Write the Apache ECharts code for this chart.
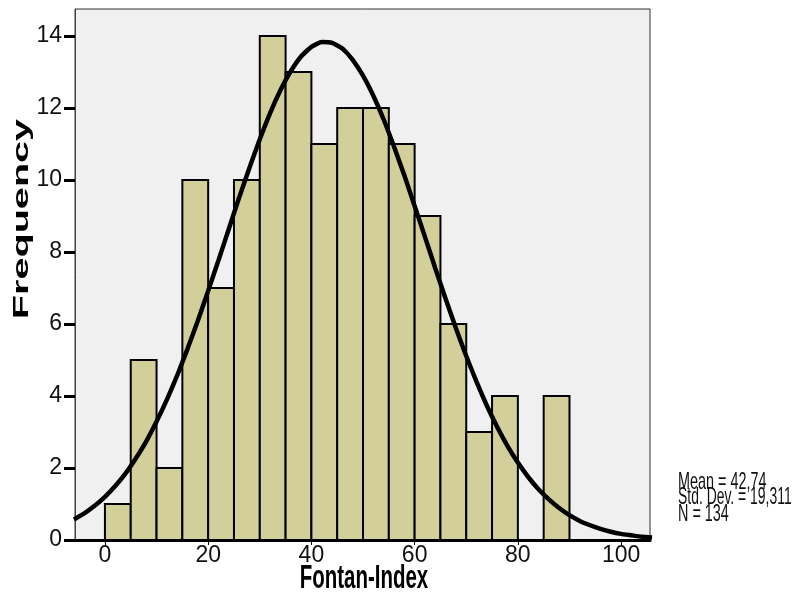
<!DOCTYPE html>
<html>
<head>
<meta charset="utf-8">
<script src="https://cdn.jsdelivr.net/npm/echarts@6/dist/echarts.min.js"></script>
<style>html,body{margin:0;padding:0;background:#fff}#c{width:803px;height:595px}</style>
</head>
<body>
<div id="c"></div>
<script>
// Histogram bins (lower edge, width 5) and frequencies
const binStarts = [0,5,10,15,20,25,30,35,40,45,50,55,60,65,70,75,80,85];
const binWidth = 5;
const counts = [1,5,2,10,7,10,14,13,11,12,12,11,9,6,3,4,0,4];
// Fitted normal curve (x, frequency)
const curveX = [-6,-4,-2,0,2,4,6,8,10,12,14,16,18,20,22,24,26,28,30,32,34,36,38,40,42,44,46,48,50,52,54,56,58,60,62,64,66,68,70,72,74,76,78,80,82,84,86,88,90,92,94,96,98,100,102,104,106];
const curveY = [0.57,0.74,0.95,1.20,1.50,1.85,2.27,2.74,3.29,3.90,4.57,5.31,6.09,6.92,7.77,8.64,9.51,10.34,11.13,11.86,12.49,13.02,13.43,13.70,13.83,13.81,13.65,13.34,12.90,12.34,11.68,10.93,10.13,9.28,8.42,7.55,6.70,5.88,5.11,4.39,3.73,3.14,2.61,2.15,1.75,1.41,1.13,0.89,0.69,0.53,0.41,0.31,0.23,0.17,0.13,0.09,0.07];
const xTicks = [0,20,40,60,80,100];
const statsLines = ['Mean = 42,74','Std. Dev. = 19,311','N = 134'];
const xTitle = 'Fontan-Index';
const yTitle = 'Frequency';

const histData = binStarts.map((s,i)=>[s, s+binWidth, counts[i]]);
const curveData = curveX.map((x,i)=>[x, curveY[i]]);

const chart = echarts.init(document.getElementById('c'), null, {renderer:'canvas'});
const tickFont = '"Liberation Sans Narrow", "Liberation Sans", Arial, sans-serif';
const statFont = '24px "Liberation Sans", Arial, sans-serif';
chart.setOption({
  animation:false,
  backgroundColor:'#ffffff',
  grid:{left:75,right:153,top:9,bottom:55,show:true,backgroundColor:'#f0f0f0',borderColor:'#333',borderWidth:1},
  xAxis:{
    type:'value',min:-5.8,max:105.6,
    splitLine:{show:false},
    axisLine:{show:true,onZero:false,lineStyle:{color:'#000',width:3}},
    axisTick:{show:true,customValues:xTicks,length:5,lineStyle:{color:'#000',width:1}},
    axisLabel:{customValues:xTicks,fontFamily:tickFont,fontSize:23,color:'#111',margin:4}
  },
  yAxis:{
    type:'value',min:0,max:14.75,interval:2,
    splitLine:{show:false},
    axisLine:{show:true,onZero:false,lineStyle:{color:'#444',width:1}},
    axisTick:{show:true,length:11,lineStyle:{color:'#000',width:3}},
    axisLabel:{fontFamily:tickFont,fontSize:23,color:'#111',margin:13,showMaxLabel:false,
      formatter:v=> (v%2===0? String(v):'')}
  },
  series:[
    {
      type:'custom',
      data:histData,
      encode:{x:[0,1],y:2},
      renderItem:function(params,api){
        const p0 = api.coord([api.value(0),0]);
        const p1 = api.coord([api.value(1),api.value(2)]);
        if(api.value(2)<=0) return null;
        return {type:'rect',shape:{x:p0[0],y:p1[1],width:p1[0]-p0[0],height:p0[1]-p1[1]},
          style:{fill:'#d3cf9a',stroke:'#000',lineWidth:2}};
      },
      z:2
    },
    {
      type:'line',data:curveData,smooth:0.15,showSymbol:false,symbol:'none',
      lineStyle:{color:'#000',width:4.5},z:3,clip:true
    }
  ],
  graphic:[
    {type:'text',x:22,y:219,rotation:Math.PI/2,scaleX:1.8,
      style:{text:yTitle,font:'bold 22px "Liberation Sans", Arial, sans-serif',fill:'#000',align:'center',verticalAlign:'middle'}},
    {type:'text',x:364,y:579,scaleX:0.62,
      style:{text:xTitle,font:'bold 33px "Liberation Sans", Arial, sans-serif',fill:'#000',align:'center',verticalAlign:'middle'}},
    {type:'text',x:678,y:470,scaleX:0.6,
      style:{text:statsLines[0],font:statFont,fill:'#111'}},
    {type:'text',x:678,y:485,scaleX:0.58,
      style:{text:statsLines[1],font:statFont,fill:'#111'}},
    {type:'text',x:678,y:502,scaleX:0.6,
      style:{text:statsLines[2],font:statFont,fill:'#111'}}
  ]
});
</script>
</body>
</html>
